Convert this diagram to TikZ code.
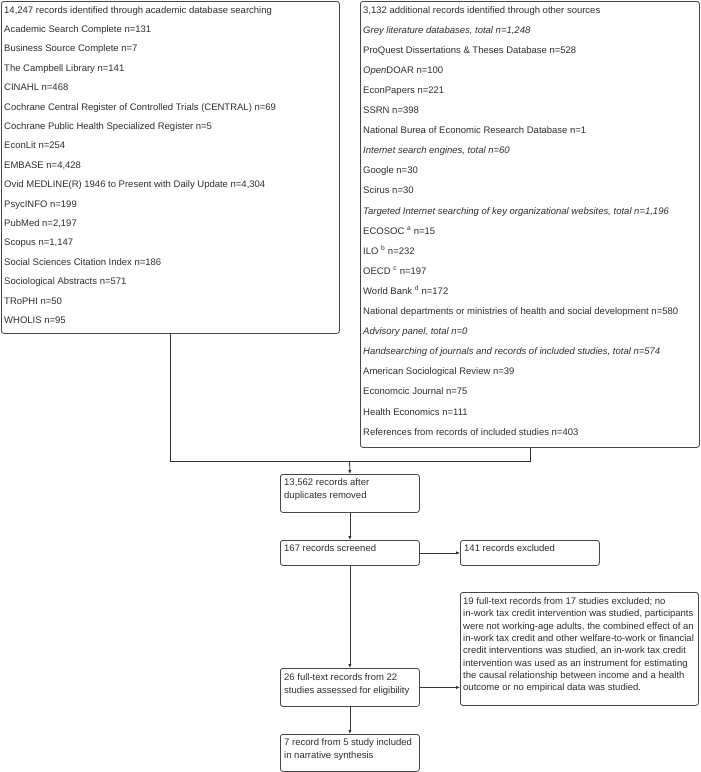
\documentclass[tikz,border=0pt]{standalone}
\usepackage{fontspec}
\setmainfont{Liberation Sans}
\usetikzlibrary{arrows.meta,calc}
\begin{document}
\begin{tikzpicture}[x=1pt,y=-1pt,
  frame/.style={draw=black!72, line width=0.8pt, rounded corners=2.5pt, inner sep=0pt, anchor=north west},
  bigtxt/.style={anchor=north west, inner sep=0pt, align=left, text=black!82, font=\fontsize{9.5}{19.4}\selectfont},
  smalltxt/.style={anchor=north west, inner sep=0pt, align=left, text=black!82, font=\fontsize{9.5}{13.3}\selectfont},
  conn/.style={draw=black!80, line width=0.8pt},
  arr/.style={conn, -{Latex[length=4pt,width=3.4pt]}}]
\useasboundingbox (0,0) rectangle (701,772);
% frames
\node[frame, minimum width=338pt, minimum height=332pt] (db) at (1,1) {};
\node[frame, minimum width=339pt, minimum height=446pt] (rs) at (360,1) {};
\node[frame, minimum width=139pt, minimum height=38pt] (dup) at (280,474) {};
\node[frame, minimum width=139pt, minimum height=25pt] (scr) at (280,540) {};
\node[frame, minimum width=139pt, minimum height=25pt] (exa) at (460,540) {};
\node[frame, minimum width=139pt, minimum height=38pt] (full) at (280,668) {};
\node[frame, minimum width=238pt, minimum height=113pt] (exb) at (460,592) {};
\node[frame, minimum width=139pt, minimum height=37pt] (inc) at (280,734) {};
% texts
\node[bigtxt] (dbT) at (4,6) {14,247 records identified through academic database searching\\
Academic Search Complete n=131\\
Business Source Complete n=7\\
The Campbell Library n=141\\
CINAHL n=468\\
Cochrane Central Register of Controlled Trials (CENTRAL) n=69\\
Cochrane Public Health Specialized Register n=5\\
EconLit n=254\\
EMBASE n=4,428\\
Ovid MEDLINE(R) 1946 to Present with Daily Update n=4,304\\
PsycINFO n=199\\
PubMed n=2,197\\
Scopus n=1,147\\
Social Sciences Citation Index n=186\\
Sociological Abstracts n=571\\
TRoPHI n=50\\
WHOLIS n=95};
\node[bigtxt, font=\fontsize{9.5}{20.1}\selectfont] (rsT) at (363,6) {3,132 additional records identified through other sources\\
\textit{Grey literature databases, total n=1,248}\\
ProQuest Dissertations \& Theses Database n=528\\
\textit{Open}DOAR n=100\\
EconPapers n=221\\
SSRN n=398\\
National Burea of Economic Research Database n=1\\
\textit{Internet search engines, total n=60}\\
Google n=30\\
Scirus n=30\\
\textit{Targeted Internet searching of key organizational websites, total n=1,196}\\
ECOSOC \textsuperscript{a} n=15\\
ILO \textsuperscript{b} n=232\\
OECD \textsuperscript{c} n=197\\
World Bank \textsuperscript{d} n=172\\
National departments or ministries of health and social development n=580\\
\textit{Advisory panel, total n=0}\\
\textit{Handsearching of journals and records of included studies, total n=574}\\
American Sociological Review n=39\\
Economcic Journal n=75\\
Health Economics n=111\\
References from records of included studies n=403};
\node[smalltxt] (dupT) at (284,478.6) {13,562 records after\\duplicates removed};
\node[smalltxt] (scrT) at (284,544.6) {167 records screened};
\node[smalltxt] (exaT) at (464,544.6) {141 records excluded};
\node[smalltxt] (fullT) at (284,673.6) {26 full-text records from 22\\studies assessed for eligibility};
\node[smalltxt, font=\fontsize{9.5}{12.3}\selectfont] (exbT) at (463,597.6) {19 full-text records from 17 studies excluded; no\\
in-work tax credit intervention was studied, participants\\
were not working-age adults, the combined effect of an\\
in-work tax credit and other welfare-to-work or financial\\
credit interventions was studied, an in-work tax credit\\
intervention was used as an instrument for estimating\\
the causal relationship between income and a health\\
outcome or no empirical data was studied.};
\node[smalltxt] (incT) at (284,738.6) {7 record from 5 study included\\in narrative synthesis};
% connectors
\coordinate (j) at (349.5,461);
\draw[conn] (db.south) -- (db.south |- j) -- (rs.south |- j) -- (rs.south);
\draw[arr] (j) -- (dup.north);
\draw[arr] (dup.south) -- (scr.north);
\draw[arr] (scr.east) -- (exa.west);
\draw[arr] (scr.south) -- (full.north);
\draw[arr] (full.east) -- (exb.west |- full.east);
\draw[arr] (full.south) -- (inc.north);
\end{tikzpicture}
\end{document}
